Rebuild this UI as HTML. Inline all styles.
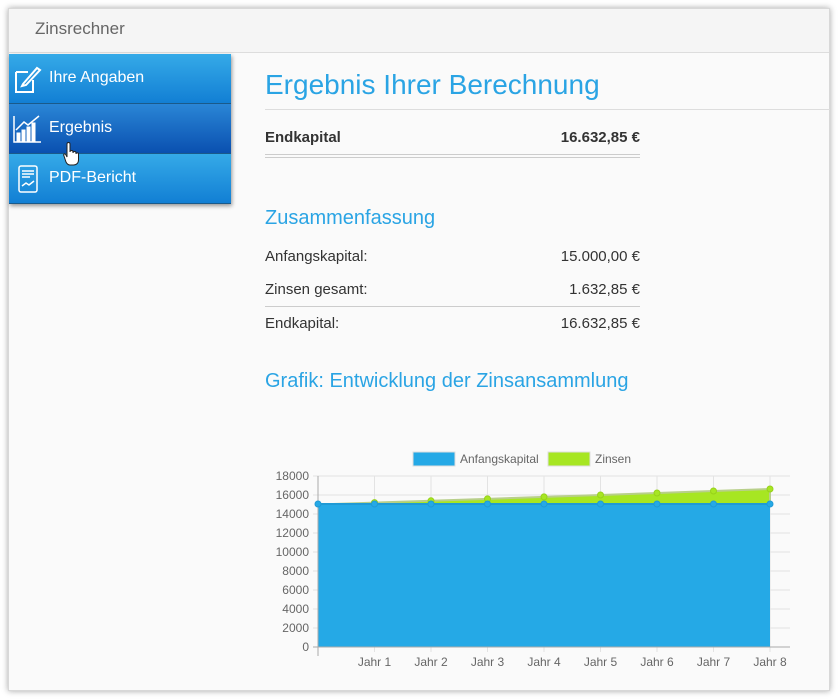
<!DOCTYPE html>
<html><head><meta charset="utf-8"><style>
*{margin:0;padding:0;box-sizing:border-box}
body{width:838px;height:699px;background:#fff;font-family:"Liberation Sans",Arial,sans-serif;position:relative;overflow:hidden}
.win{position:absolute;left:8px;top:8px;width:822px;height:683px;background:#fafafa;border:1px solid #d8d8d8;box-shadow:0 0 6px rgba(0,0,0,.35)}
.hdr{position:absolute;left:0;top:0;width:820px;height:44px;background:#f5f5f5;border-bottom:1px solid #ddd;color:#666;font-size:17px;padding:10px 0 0 26px}
.nav{position:absolute;left:0;top:45px;width:222px;box-shadow:1px 2px 4px rgba(0,0,0,.4)}
.it{height:50px;color:#fff;font-size:16px;line-height:48px;padding-left:40px;position:relative;background:linear-gradient(#35aae8,#127fd4);border-bottom:1px solid #1a5a8a}
.it.act{background:linear-gradient(#2a86d6,#0a50b0);z-index:2}
.ic{position:absolute;left:4px;top:10px}
.t{position:absolute;color:#2aa4e4}
.row{position:absolute;left:265px;width:375px;font-size:15px;color:#333}
.row span{float:right}
</style></head><body>
<div class="win">
<div class="hdr">Zinsrechner</div>
<div class="nav">
<div class="it"><svg class="ic" width="30" height="30" viewBox="0 0 30 30" fill="none" stroke="#fff" stroke-width="2"><path d="M3 8h12M3 8v20h17V16"/><path d="M10 20l14-16 3 2-14 15-4 1z"/></svg>Ihre Angaben</div>
<div class="it act"><svg class="ic" width="30" height="30" viewBox="0 0 30 30" fill="#fff" stroke="#fff"><path d="M1 2v26h27" fill="none" stroke-width="1.5"/><rect x="4" y="19" width="3" height="8"/><rect x="9" y="16" width="3" height="11"/><rect x="14" y="13" width="3" height="14"/><rect x="19" y="9" width="3" height="18"/><path d="M3 16l8-8 4 3 11-9" fill="none" stroke-width="1.5"/></svg>Ergebnis<svg style="position:absolute;left:54px;top:38px;z-index:3" width="16" height="24" viewBox="0 0 16 24"><path d="M4 2c0-2 3-2 3 0v8c0-2 3-2 3 0v1c0-2 3-2 3 0v1c0-1.5 2.5-1.5 2.5 0v6c0 3-2 5-5 5H7c-2 0-3-1-4-3L1 14c-1-2 1-3 2-1l1 2z" fill="#fff" stroke="#222" stroke-width="1"/></svg></div>
<div class="it"><svg class="ic" width="30" height="30" viewBox="0 0 30 30" fill="none" stroke="#fff" stroke-width="1.5"><rect x="6" y="2" width="18" height="26" rx="2"/><path d="M9 7h12M9 10h12M9 13h8"/><path d="M9 22l4-3 3 2 5-4"/></svg>PDF-Bericht</div>
</div>
</div>
<div class="t" style="left:265px;top:69px;font-size:28px">Ergebnis Ihrer Berechnung</div>
<div style="position:absolute;left:265px;top:109px;width:565px;border-top:1px solid #ddd"></div>
<div class="row" style="top:129px;font-weight:bold">Endkapital<span>16.632,85 €</span></div>
<div style="position:absolute;left:265px;top:154px;width:375px;height:4px;border-top:1px solid #ccc;border-bottom:1px solid #ccc"></div>
<div class="t" style="left:265px;top:207px;font-size:20px">Zusammenfassung</div>
<div class="row" style="top:248px">Anfangskapital:<span>15.000,00 €</span></div>
<div class="row" style="top:281px">Zinsen gesamt:<span>1.632,85 €</span></div>
<div style="position:absolute;left:265px;top:306px;width:375px;border-top:1px solid #ccc"></div>
<div class="row" style="top:315px">Endkapital:<span>16.632,85 €</span></div>
<div class="t" style="left:265px;top:370px;font-size:20px">Grafik: Entwicklung der Zinsansammlung</div>
<svg style="position:absolute;left:0;top:0" width="838" height="699" font-family="Liberation Sans,Arial,sans-serif" font-size="12" fill="#666">
<rect x="413" y="452" width="42" height="14" fill="#25a9e6" stroke="#ddd"/><text x="460" y="463">Anfangskapital</text>
<rect x="548" y="452" width="42" height="14" fill="#a7e622" stroke="#ddd"/><text x="595" y="463">Zinsen</text>
<g stroke="#e3e3e3">
<line x1="313" y1="476" x2="790" y2="476"/><line x1="313" y1="495" x2="790" y2="495"/><line x1="313" y1="514" x2="790" y2="514"/><line x1="313" y1="533" x2="790" y2="533"/><line x1="313" y1="552" x2="790" y2="552"/><line x1="313" y1="571" x2="790" y2="571"/><line x1="313" y1="590" x2="790" y2="590"/><line x1="313" y1="609" x2="790" y2="609"/><line x1="313" y1="628" x2="790" y2="628"/>
<line x1="374.5" y1="476" x2="374.5" y2="652"/><line x1="431" y1="476" x2="431" y2="652"/><line x1="487.5" y1="476" x2="487.5" y2="652"/><line x1="544" y1="476" x2="544" y2="652"/><line x1="600.5" y1="476" x2="600.5" y2="652"/><line x1="657" y1="476" x2="657" y2="652"/><line x1="713.5" y1="476" x2="713.5" y2="652"/><line x1="770" y1="476" x2="770" y2="652"/>
</g>
<polygon points="318,504.5 374.5,502.6 431,500.8 487.5,498.9 544,496.9 600.5,495 657,493 713.5,491 770,489 770,504.5 318,504.5" fill="#a7e622" stroke="#b8cf8a" stroke-width="2"/>
<rect x="318" y="504.5" width="452" height="142.5" fill="#25a9e6"/>
<line x1="318" y1="504" x2="770" y2="504" stroke="#1f9ad6" stroke-width="2"/>
<line x1="318" y1="476" x2="318" y2="656" stroke="#aaa"/><line x1="313" y1="647" x2="790" y2="647" stroke="#aaa"/>
<g fill="#a7e622" stroke="#97d21a"><circle cx="374.5" cy="502.6" r="3"/><circle cx="431" cy="500.8" r="3"/><circle cx="487.5" cy="498.9" r="3"/><circle cx="544" cy="496.9" r="3"/><circle cx="600.5" cy="495" r="3"/><circle cx="657" cy="493" r="3"/><circle cx="713.5" cy="491" r="3"/><circle cx="770" cy="489" r="3"/></g>
<g fill="#25a9e6" stroke="#1f9ad6"><circle cx="318" cy="504" r="3"/><circle cx="374.5" cy="504" r="3"/><circle cx="431" cy="504" r="3"/><circle cx="487.5" cy="504" r="3"/><circle cx="544" cy="504" r="3"/><circle cx="600.5" cy="504" r="3"/><circle cx="657" cy="504" r="3"/><circle cx="713.5" cy="504" r="3"/><circle cx="770" cy="504" r="3"/></g>
<g text-anchor="end"><text x="309" y="480">18000</text><text x="309" y="499">16000</text><text x="309" y="518">14000</text><text x="309" y="537">12000</text><text x="309" y="556">10000</text><text x="309" y="575">8000</text><text x="309" y="594">6000</text><text x="309" y="613">4000</text><text x="309" y="632">2000</text><text x="309" y="651">0</text></g>
<g text-anchor="middle"><text x="374.5" y="666">Jahr 1</text><text x="431" y="666">Jahr 2</text><text x="487.5" y="666">Jahr 3</text><text x="544" y="666">Jahr 4</text><text x="600.5" y="666">Jahr 5</text><text x="657" y="666">Jahr 6</text><text x="713.5" y="666">Jahr 7</text><text x="770" y="666">Jahr 8</text></g>
</svg>
</body></html>
